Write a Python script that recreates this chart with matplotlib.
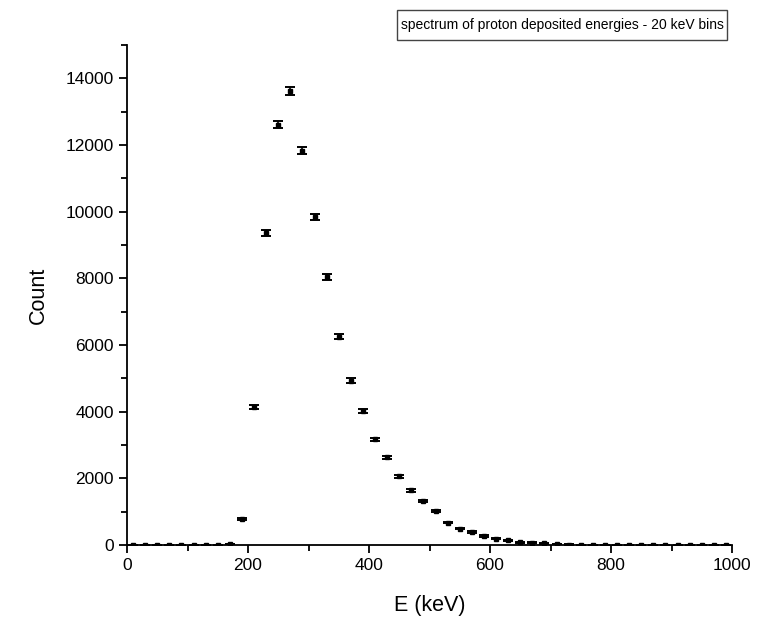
import matplotlib.pyplot as plt
from matplotlib.patches import Rectangle
from matplotlib.ticker import MultipleLocator

plt.rcParams['font.family'] = ['Liberation Sans', 'DejaVu Sans']

# bin centres (keV), 20 keV bins
energy = [10, 30, 50, 70, 90, 110, 130, 150, 170, 190,
          210, 230, 250, 270, 290, 310, 330, 350, 370, 390,
          410, 430, 450, 470, 490, 510, 530, 550, 570, 590,
          610, 630, 650, 670, 690, 710, 730, 750, 770, 790,
          810, 830, 850, 870, 890, 910, 930, 950, 970, 990]
counts = [0, 0, 0, 0, 0, 0, 0, 2, 30, 784,
          4130, 9360, 12610, 13620, 11830, 9840, 8050, 6250, 4930, 4030,
          3165, 2625, 2065, 1635, 1315, 1030, 672, 492, 390, 270,
          190, 140, 80, 70, 50, 30, 15, 10, 5, 3,
          2, 1, 1, 0, 0, 0, 0, 0, 0, 0]
errors = [0, 0, 0, 0, 0, 0, 0, 1, 5, 28,
          64, 97, 112, 117, 109, 99, 90, 79, 70, 63,
          56, 51, 45, 40, 36, 32, 26, 22, 20, 16,
          14, 12, 9, 8, 7, 5, 4, 3, 2, 2,
          1, 1, 1, 0, 0, 0, 0, 0, 0, 0]

fig = plt.figure(figsize=(7.73, 6.23), dpi=100)
ax = fig.add_axes([0.1643, 0.1252, 0.7827, 0.8026])

ax.errorbar(energy, counts, yerr=errors, fmt='s', color='black',
            markersize=3, elinewidth=1.2, capsize=3.6, capthick=1.4,
            ecolor='black')

ax.set_xlim(0, 1000)
ax.set_ylim(0, 15000)
ax.xaxis.set_major_locator(MultipleLocator(200))
ax.xaxis.set_minor_locator(MultipleLocator(100))
ax.yaxis.set_major_locator(MultipleLocator(2000))
ax.yaxis.set_minor_locator(MultipleLocator(1000))

for side in ['top', 'right']:
    ax.spines[side].set_visible(False)
for side in ['left', 'bottom']:
    ax.spines[side].set_linewidth(1.3)

ax.tick_params(which='major', direction='out', length=6, width=1.3,
               labelsize=12.5, colors='black')
ax.tick_params(which='minor', direction='out', length=4, width=1.3)

ax.set_xlabel('E (keV)', fontsize=15.5, labelpad=16)
ax.set_ylabel('Count', fontsize=15.5, labelpad=12)

# title box above the plot
fig.patches.append(Rectangle((0.5136, 0.9358), 0.4269, 0.0482,
                             transform=fig.transFigure, facecolor='white',
                             edgecolor='#444444', linewidth=1.0))
fig.text(0.727, 0.9599, 'spectrum of proton deposited energies - 20 keV bins',
         ha='center', va='center', fontsize=10)

fig.savefig('out.png', dpi=100)
